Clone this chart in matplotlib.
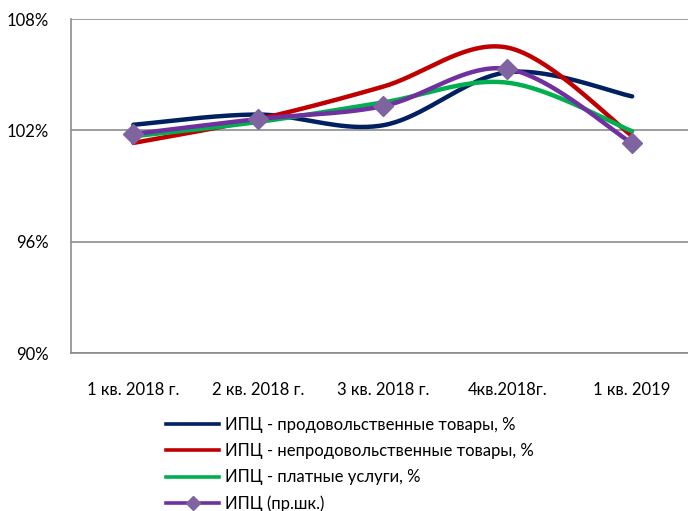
import numpy as np
import matplotlib
matplotlib.use("Agg")
import matplotlib.pyplot as plt
from matplotlib.lines import Line2D

categories = ["1 кв. 2018 г.", "2 кв. 2018 г.", "3 кв. 2018 г.", "4кв.2018г.", "1 кв. 2019"]
food = [102.3, 102.85, 102.27, 105.13, 103.83]
nonfood = [101.32, 102.6, 104.35, 106.46, 101.7]
services = [101.68, 102.45, 103.5, 104.57, 101.95]
cpi = [101.8, 102.61, 103.3, 105.31, 101.3]
series_labels = ["ИПЦ - продовольственные товары, %",
                 "ИПЦ - непродовольственные товары, %",
                 "ИПЦ - платные услуги, %",
                 "ИПЦ (пр.шк.)"]
yticks = [90, 96, 102, 108]

plt.rcParams['font.family'] = ['Lato', 'DejaVu Sans']

def smooth(x, y, n=40):
    x = np.asarray(x, float); y = np.asarray(y, float)
    P = np.column_stack([x, y])
    out = [P[0]]
    for i in range(len(P) - 1):
        p0 = P[i - 1] if i > 0 else P[i]
        p1 = P[i]; p2 = P[i + 1]
        p3 = P[i + 2] if i + 2 < len(P) else P[i + 1]
        c1 = p1 + (p2 - p0) / 6
        c2 = p2 - (p3 - p1) / 6
        t = np.linspace(0, 1, n)[1:, None]
        seg = (1 - t) ** 3 * p1 + 3 * (1 - t) ** 2 * t * c1 + 3 * (1 - t) * t ** 2 * c2 + t ** 3 * p2
        out.extend(seg)
    out = np.array(out)
    return out[:, 0], out[:, 1]

fig = plt.figure(figsize=(6.88, 5.11), dpi=100)
ax = fig.add_axes([71 / 688, (511 - 353) / 511, 623.5 / 688, 334 / 511])

x = np.arange(len(categories))
colors = ["#002060", "#C00000", "#00B050", "#7030A0"]
for vals, c in zip([food, nonfood, services, cpi], colors):
    sx, sy = smooth(x, vals)
    ax.plot(sx, sy, color=c, lw=3.2, solid_capstyle='round', zorder=3, clip_on=False)
ax.plot(x, cpi, linestyle='none', marker='D', ms=10.5, color="#8064A2", zorder=4, clip_on=False)

ax.set_xlim(-0.5, len(categories) - 0.5)
ax.set_ylim(90, 108)
ax.set_yticks(yticks)
ax.set_yticklabels([f"{v}%" for v in yticks], fontsize=12)
ax.set_xticks(x)
ax.set_xticklabels(categories, fontsize=12)
ax.tick_params(axis='x', length=0, pad=21)
ax.tick_params(axis='y', length=0, pad=15.8)
for s in ['top', 'right']:
    ax.spines[s].set_visible(False)
ax.spines['left'].set_color('#8c8c8c')
ax.spines['bottom'].set_color('#8c8c8c')
ax.spines['left'].set_linewidth(1.2)
ax.spines['bottom'].set_linewidth(1.2)
ax.grid(axis='y', color='#8c8c8c', lw=1.2)
ax.set_axisbelow(True)

handles = [Line2D([], [], color=colors[0], lw=2.6),
           Line2D([], [], color=colors[1], lw=2.6),
           Line2D([], [], color=colors[2], lw=2.6),
           Line2D([], [], color=colors[3], lw=2.6, marker='D', ms=7, markerfacecolor="#8064A2", markeredgecolor="#8064A2")]
fig.legend(handles, series_labels, loc='upper left', bbox_to_anchor=(166 / 688, 1 - 417 / 511),
           frameon=False, fontsize=12, handlelength=3.18, labelspacing=0.61, handletextpad=0.36,
           borderaxespad=0, borderpad=0)

fig.savefig("out.png", dpi=100)
